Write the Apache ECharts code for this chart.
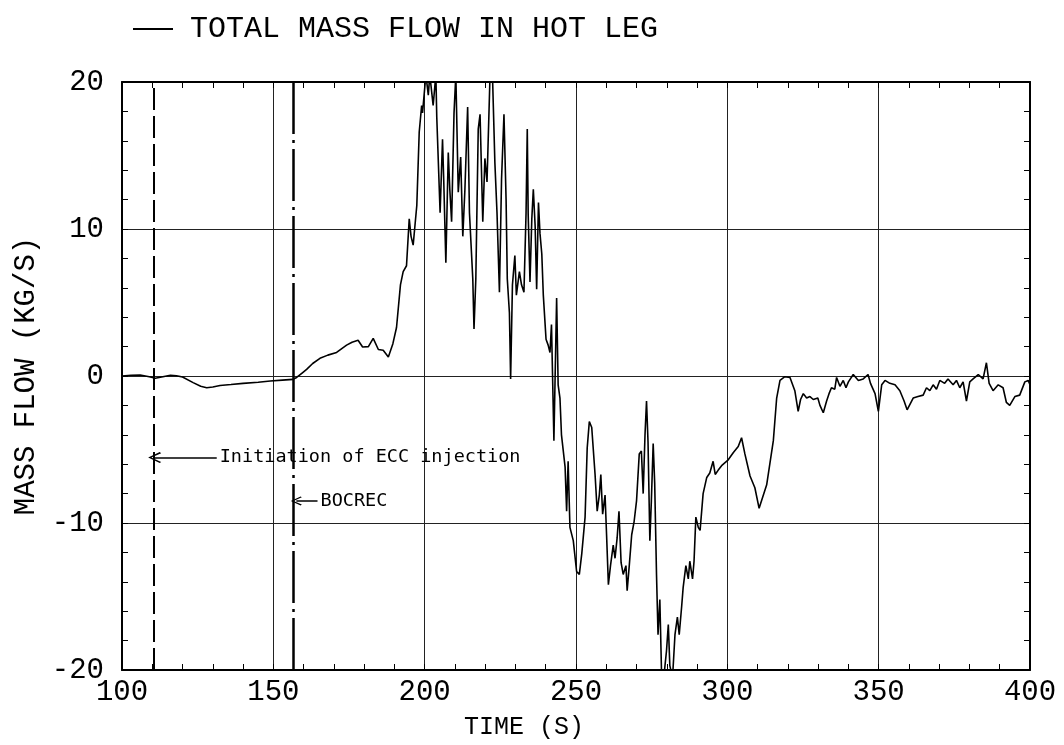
<!DOCTYPE html>
<html>
<head>
<meta charset="utf-8">
<title>Total mass flow in hot leg</title>
<script src="https://cdn.jsdelivr.net/npm/echarts@6/dist/echarts.min.js"></script>
<style>
  html, body { margin: 0; padding: 0; background: #ffffff; }
  #chart { width: 1064px; height: 745px; }
</style>
</head>
<body>
<div id="chart"></div>
<script>
// Time samples (s)
const times = [
  100, 103, 106, 109, 111, 113.5, 116, 118, 120, 123.5, 126, 128, 130, 132.4, 136, 140, 145, 149, 153, 156.5,
  157.7, 159.5, 161, 163, 165.4, 168, 170.9, 172.5, 174.2, 176, 178, 179.5, 181.4, 183, 184.7, 186.3, 188, 189.5,
  190.7, 192, 192.9, 194, 194.9, 195.5, 196.2, 197.4, 198.2, 199, 199.3, 200.4, 201.2, 201.7, 202.8, 203.7, 204,
  205.1, 205.9, 206.3, 207, 207.8, 208.3, 208.9, 209.7, 210.3, 211.1, 211.9, 212.6, 213.3, 214.2, 214.8, 215.9,
  216.3, 216.9, 217.7, 218.3, 219.2, 219.9, 220.6, 221.6, 222.4, 223.2, 223.9, 224.7, 225.4, 226.2, 226.9, 227.3,
  228, 228.4, 229, 229.8, 230.3, 231.3, 232, 232.8, 233.5, 233.9, 234.2, 234.8, 235.4, 235.9, 236.5, 237, 237.6,
  238.1, 238.7, 239.2, 240.1, 240.8, 241.4, 241.9, 242.7, 243.6, 244.1, 244.7, 245.2, 246.4, 246.9, 247.4, 248,
  249.1, 250.2, 251.1, 251.9, 253, 253.7, 254.4, 255.2, 256.3, 257, 257.7, 258.2, 258.8, 259.6, 260.1, 260.7,
  261.4, 262.3, 262.9, 263.6, 264.2, 264.9, 265.6, 266.5, 266.9, 267.6, 268.4, 269.2, 270, 270.9, 271.6, 272.2,
  272.8, 273.3, 273.8, 274.4, 274.9, 275.5, 276, 276.6, 277.1, 277.7, 278.3, 279, 279.9, 280.5, 281, 281.9, 282.7,
  283.5, 284.1, 284.9, 285.4, 286.3, 287.1, 287.6, 288.5, 289, 289.6, 290.4, 291, 292, 293.2, 294.2, 295.3, 296,
  297, 298.1, 300.3, 302, 303.6, 304.7, 305.8, 307.5, 309.1, 310.5, 313, 315.2, 316.3, 317.4, 319, 320.7, 322.3,
  323.4, 324.2, 325.1, 326.2, 327.3, 328.4, 329.9, 330.6, 331.7, 332.8, 333.6, 334.4, 335.5, 336.1, 337.2, 338.3,
  339.2, 340, 341.6, 343.3, 344.9, 346.5, 347.3, 348.8, 349.9, 351, 352.1, 353.7, 355.4, 357, 358.4, 359.4, 361.4,
  363, 364.7, 365.8, 366.9, 368, 369.1, 370.2, 371.8, 372.9, 374.6, 375.7, 376.8, 377.9, 379, 380.1, 381.2, 382.9,
  384.5, 385.6, 386.5, 387.8, 389.5, 391.1, 392.2, 393.3, 395, 396.6, 398.3, 399.4, 400
];

// Total mass flow in the hot leg (kg/s)
const flows = [
  0, 0.05, 0.07, -0.05, -0.15, -0.05, 0.05, 0.02, -0.07, -0.45, -0.7, -0.8, -0.75, -0.65, -0.58, -0.5, -0.42, -0.34, -0.28, -0.23,
  -0.1, 0.2, 0.45, 0.85, 1.2, 1.42, 1.6, 1.85, 2.1, 2.3, 2.43, 1.97, 2.0, 2.56, 1.8, 1.75, 1.3, 2.2,
  3.3, 6.2, 7.1, 7.5, 10.7, 9.5, 8.9, 11.6, 16.6, 18.4, 17.9, 20.5, 19.1, 20.5, 18.4, 20.5, 17.6,
  11.1, 16.1, 13.3, 7.7, 15.2, 12.7, 10.5, 17.9, 20.5, 12.5, 14.9, 9.5, 12.7, 18.3, 11.1, 6.6,
  3.2, 6.6, 16.8, 17.8, 10.5, 14.8, 13.2, 20.5, 20.5, 14.5, 11.1, 5.7, 13.4, 17.8, 12, 6.6,
  4.3, -0.2, 6.2, 8.2, 5.5, 7.1, 6.2, 5.7, 11.1, 16.8, 11, 6.4, 10.7, 12.7, 10.2, 5.9, 11.8,
  9.7, 8.3, 5.5, 2.5, 2.1, 1.6, 3.5, -4.4, 5.3, -0.6, -1.5, -4.0, -6.2, -9.2, -5.8, -10.3,
  -11.2, -13.3, -13.5, -12.1, -9.6, -4.9, -3.1, -3.5, -6.7, -9.2, -8.1, -6.7, -9.4, -8.1, -10.8, -14.2,
  -12.9, -11.5, -12.4, -11.0, -9.2, -12.7, -13.5, -12.9, -14.6, -12.9, -10.8, -9.9, -8.5, -5.3, -5.1, -8.0,
  -4.0, -1.7, -4.5, -11.2, -8.5, -4.6, -7.3, -13.5, -17.6, -15.2, -20.5, -20.5, -18.7, -16.9, -19.7, -20.5, -17.6,
  -16.4, -17.6, -15.7, -14.4, -12.9, -13.8, -12.6, -13.8, -12.6, -9.6, -10.3, -10.5, -8.0, -6.9, -6.6, -5.8, -6.7,
  -6.4, -6.1, -5.7, -5.2, -4.8, -4.2, -5.3, -6.8, -7.6, -9.0, -7.4, -4.4, -1.5, -0.3, -0.05, -0.1, -1.0,
  -2.4, -1.6, -1.2, -1.5, -1.4, -1.6, -1.5, -2.0, -2.5, -1.7, -1.2, -0.8, -0.9, -0.1, -0.7, -0.3,
  -0.8, -0.4, 0.1, -0.3, -0.2, 0.1, -0.5, -1.2, -2.4, -0.6, -0.3, -0.5, -0.6, -1.0, -1.7, -2.3, -1.5,
  -1.4, -1.3, -0.8, -1.0, -0.6, -0.9, -0.3, -0.5, -0.2, -0.6, -0.3, -0.8, -0.4, -1.7, -0.4, -0.2, 0.1,
  -0.2, 0.9, -0.5, -1.0, -0.6, -0.8, -1.8, -2.0, -1.4, -1.3, -0.4, -0.3, -0.6
];

// Axis ranges and tick spacing
const timeRange = [100, 400];
const timeTickStep = 50;
const flowRange = [-20, 20];
const flowTickStep = 10;

// Event markers (s) and their annotations
const eccTime = 110.5;
const bocrecTime = 156.5;
const eccArrow = [[110.8, -5.55], [131.3, -5.55]];
const bocrecArrow = [[157.6, -8.5], [164.6, -8.5]];
const eccText = 'Initiation of ECC injection';
const bocrecText = 'BOCREC';

const seriesName = 'TOTAL MASS FLOW IN HOT LEG';
const xName = 'TIME (S)';
const yName = 'MASS FLOW (KG/S)';

const monoFont = "'Liberation Mono', 'DejaVu Sans Mono', monospace";
const noteFont = "'DejaVu Sans Mono', 'Liberation Mono', monospace";
const chevron = 'path://M5,0 L10,8 L9,9 L5,2.2 L1,9 L0,8 Z';

const seriesData = times.map((t, i) => [t, flows[i]]);

const frameLine = { show: true, onZero: false, lineStyle: { color: '#000', width: 2 } };
const tickStyle = { show: true, inside: true, length: 6, lineStyle: { color: '#000', width: 1 } };
const minorStyle = { show: true, splitNumber: 5, length: 6, lineStyle: { color: '#000', width: 1 } };
const gridLine = { show: true, lineStyle: { color: '#222', width: 1 } };

const chart = echarts.init(document.getElementById('chart'), null, { renderer: 'canvas' });

chart.setOption({
  animation: false,
  backgroundColor: '#ffffff',
  textStyle: { fontFamily: monoFont, color: '#000' },
  legend: {
    left: 128,
    top: 9,
    icon: 'rect',
    itemWidth: 40,
    itemHeight: 2,
    data: [seriesName],
    textStyle: { fontFamily: monoFont, fontSize: 30, color: '#000', padding: [0, 0, 0, 12] }
  },
  grid: { left: 122, right: 34, top: 82, bottom: 75, containLabel: false },
  xAxis: [
    {
      type: 'value',
      position: 'bottom',
      min: timeRange[0], max: timeRange[1], interval: timeTickStep,
      name: xName,
      nameLocation: 'middle',
      nameGap: 45,
      nameTextStyle: { fontFamily: monoFont, fontSize: 25, color: '#000', padding: [0, 104, 0, 0] },
      axisLine: frameLine,
      axisTick: tickStyle,
      minorTick: minorStyle,
      axisLabel: { margin: 8, fontFamily: monoFont, fontSize: 29, color: '#000' },
      splitLine: gridLine
    },
    {
      type: 'value',
      position: 'top',
      min: timeRange[0], max: timeRange[1], interval: timeTickStep,
      axisLine: frameLine,
      axisTick: tickStyle,
      minorTick: minorStyle,
      axisLabel: { show: false },
      splitLine: { show: false }
    }
  ],
  yAxis: [
    {
      type: 'value',
      position: 'left',
      min: flowRange[0], max: flowRange[1], interval: flowTickStep,
      name: yName,
      nameLocation: 'middle',
      nameRotate: 90,
      nameGap: 78,
      nameTextStyle: { fontFamily: monoFont, fontSize: 29, color: '#000' },
      axisLine: frameLine,
      axisTick: tickStyle,
      minorTick: minorStyle,
      axisLabel: { margin: 18, fontFamily: monoFont, fontSize: 29, color: '#000' },
      splitLine: gridLine
    },
    {
      type: 'value',
      position: 'right',
      min: flowRange[0], max: flowRange[1], interval: flowTickStep,
      axisLine: frameLine,
      axisTick: tickStyle,
      minorTick: minorStyle,
      axisLabel: { show: false },
      splitLine: { show: false }
    }
  ],
  series: [
    {
      name: seriesName,
      type: 'line',
      xAxisIndex: 0,
      yAxisIndex: 0,
      data: seriesData,
      showSymbol: false,
      symbol: 'none',
      clip: true,
      color: '#000',
      lineStyle: { color: '#000', width: 1.6 },
      markLine: {
        silent: true,
        animation: false,
        symbol: 'none',
        label: { show: false },
        data: [
          { xAxis: eccTime, lineStyle: { color: '#000', width: 2, type: [22, 6] } },
          { xAxis: bocrecTime, lineStyle: { color: '#000', width: 2.5, type: [52, 6, 3, 6] } },
          [
            { coord: eccArrow[0], symbol: chevron, symbolSize: [11, 13] },
            {
              coord: eccArrow[1], symbol: 'none',
              lineStyle: { color: '#000', width: 1.5, type: 'solid' },
              label: {
                show: true, position: 'end', distance: 3, formatter: eccText,
                fontFamily: noteFont, fontSize: 18.5, color: '#000'
              }
            }
          ],
          [
            { coord: bocrecArrow[0], symbol: chevron, symbolSize: [9, 11] },
            {
              coord: bocrecArrow[1], symbol: 'none',
              lineStyle: { color: '#000', width: 1.5, type: 'solid' },
              label: {
                show: true, position: 'end', distance: 3, formatter: bocrecText,
                fontFamily: noteFont, fontSize: 18.5, color: '#000'
              }
            }
          ]
        ]
      }
    }
  ]
});
</script>
</body>
</html>
